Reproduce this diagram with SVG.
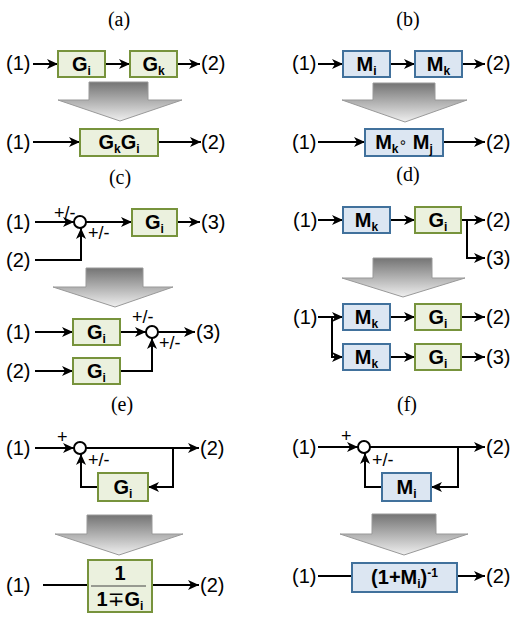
<svg xmlns="http://www.w3.org/2000/svg" width="515" height="617" viewBox="0 0 515 617">
  <defs>
    <marker id="ah" markerUnits="userSpaceOnUse" markerWidth="12" markerHeight="10" refX="11" refY="5" orient="auto">
      <path d="M0,0 L11,5 L0,10 L3,5 z" fill="#000"/>
    </marker>
    <linearGradient id="bigArrowFill" x1="0" y1="0" x2="0" y2="1">
      <stop offset="0" stop-color="#747474"/>
      <stop offset="1" stop-color="#efefef"/>
    </linearGradient>
    <style>
      .lbl { font-family: "Liberation Sans", Arial, sans-serif; font-size: 20px; fill: #000; }
      .cap { font-family: "Liberation Serif", "Times New Roman", serif; font-size: 20px; fill: #000; text-anchor: middle; }
      .sgn { font-family: "Liberation Sans", Arial, sans-serif; font-size: 18px; fill: #000; }
      .bt  { font-family: "Liberation Sans", "DejaVu Sans", Arial, sans-serif; font-size: 20px; font-weight: bold; fill: #000; text-anchor: middle; }
      .sub { font-size: 12px; }
      .gbox { fill: #ebf1de; stroke: #77933c; stroke-width: 2; }
      .bbox { fill: #dce6f2; stroke: #41719c; stroke-width: 2; }
      .wire { fill: none; stroke: #000; stroke-width: 2; }
      .arr { marker-end: url(#ah); }
      .sum { fill: #fff; stroke: #000; stroke-width: 2; }
      .big { fill: url(#bigArrowFill); stroke: #999; stroke-width: 1; }
    </style>
  </defs>

  <!-- captions -->
  <g id="captions">
    <text class="cap" x="119" y="26">(a)</text>
    <text class="cap" x="408" y="26">(b)</text>
    <text class="cap" x="120" y="184">(c)</text>
    <text class="cap" x="408" y="181">(d)</text>
    <text class="cap" x="122" y="411">(e)</text>
    <text class="cap" x="407" y="411">(f)</text>
  </g>

  <!-- terminal labels -->
  <g id="terminals">
    <!-- (a) -->
    <text class="lbl" x="6" y="70">(1)</text>
    <text class="lbl" x="201" y="70">(2)</text>
    <text class="lbl" x="6" y="149">(1)</text>
    <text class="lbl" x="201" y="149">(2)</text>
    <!-- (b) -->
    <text class="lbl" x="292" y="70">(1)</text>
    <text class="lbl" x="486" y="70">(2)</text>
    <text class="lbl" x="292" y="149">(1)</text>
    <text class="lbl" x="486" y="149">(2)</text>
    <!-- (c) -->
    <text class="lbl" x="6" y="229">(1)</text>
    <text class="lbl" x="6" y="267">(2)</text>
    <text class="lbl" x="201" y="229">(3)</text>
    <text class="lbl" x="6" y="339">(1)</text>
    <text class="lbl" x="6" y="378">(2)</text>
    <text class="lbl" x="196" y="339">(3)</text>
    <!-- (d) -->
    <text class="lbl" x="293" y="227">(1)</text>
    <text class="lbl" x="486" y="227">(2)</text>
    <text class="lbl" x="486" y="265">(3)</text>
    <text class="lbl" x="293" y="324">(1)</text>
    <text class="lbl" x="486" y="324">(2)</text>
    <text class="lbl" x="486" y="364">(3)</text>
    <!-- (e) -->
    <text class="lbl" x="6" y="455">(1)</text>
    <text class="lbl" x="200" y="455">(2)</text>
    <text class="lbl" x="6" y="592">(1)</text>
    <text class="lbl" x="200" y="592">(2)</text>
    <!-- (f) -->
    <text class="lbl" x="292" y="454">(1)</text>
    <text class="lbl" x="486" y="454">(2)</text>
    <text class="lbl" x="292" y="583">(1)</text>
    <text class="lbl" x="486" y="583">(2)</text>
  </g>

  <!-- sign labels at summing junctions -->
  <g id="signs">
    <text class="sgn" x="54" y="219">+/-</text>
    <text class="sgn" x="88" y="239">+/-</text>
    <text class="sgn" x="132" y="323">+/-</text>
    <text class="sgn" x="159" y="349">+/-</text>
    <text class="sgn" x="57" y="443">+</text>
    <text class="sgn" x="88" y="466">+/-</text>
    <text class="sgn" x="341" y="442">+</text>
    <text class="sgn" x="372" y="466">+/-</text>
  </g>

  <!-- reduction arrows -->
  <g id="reduce-a"><polygon class="big" points="89,82 148,82 148,100 182,100 120,121 58,100 89,100"/></g>
  <g id="reduce-b"><polygon class="big" points="373,83 435,83 435,100 467,100 405,122 342,100 373,100"/></g>
  <g id="reduce-c"><polygon class="big" points="86,268 143,268 143,287 173,287 115,307 53,287 86,287"/></g>
  <g id="reduce-d"><polygon class="big" points="373,258 432,258 432,278 465,278 403,297 342,278 373,278"/></g>
  <g id="reduce-e"><polygon class="big" points="87,515 152,515 152,534 183,534 119,555 55,534 87,534"/></g>
  <g id="reduce-f"><polygon class="big" points="372,514 436,514 436,534 468,534 404,555 340,534 372,534"/></g>

  <!-- connectors -->
  <g id="connectors">
    <!-- (a) -->
    <line class="wire arr" x1="33" y1="64" x2="58" y2="64"/>
    <line class="wire arr" x1="105" y1="64" x2="130" y2="64"/>
    <line class="wire arr" x1="177" y1="64" x2="200" y2="64"/>
    <line class="wire arr" x1="33" y1="142" x2="80" y2="142"/>
    <line class="wire arr" x1="158" y1="142" x2="201" y2="142"/>
    <!-- (b) -->
    <line class="wire arr" x1="318" y1="64" x2="343" y2="64"/>
    <line class="wire arr" x1="390" y1="64" x2="415" y2="64"/>
    <line class="wire arr" x1="462" y1="64" x2="485" y2="64"/>
    <line class="wire arr" x1="318" y1="142" x2="365" y2="142"/>
    <line class="wire arr" x1="443" y1="142" x2="485" y2="142"/>
    <!-- (c) top -->
    <line class="wire arr" x1="35" y1="222" x2="74" y2="222"/>
    <line class="wire arr" x1="86" y1="222" x2="132" y2="222"/>
    <line class="wire arr" x1="177" y1="222" x2="200" y2="222"/>
    <polyline class="wire arr" points="35,260 81,260 81,228"/>
    <!-- (c) bottom -->
    <line class="wire arr" x1="35" y1="332" x2="73" y2="332"/>
    <line class="wire arr" x1="120" y1="332" x2="146" y2="332"/>
    <line class="wire arr" x1="158" y1="332" x2="195" y2="332"/>
    <line class="wire arr" x1="35" y1="371" x2="73" y2="371"/>
    <polyline class="wire arr" points="120,371 152,371 152,338"/>
    <!-- (d) top -->
    <line class="wire arr" x1="318" y1="220" x2="343" y2="220"/>
    <line class="wire arr" x1="390" y1="220" x2="415" y2="220"/>
    <line class="wire arr" x1="461" y1="220" x2="485" y2="220"/>
    <polyline class="wire arr" points="467,220 467,258 485,258"/>
    <!-- (d) bottom -->
    <line class="wire arr" x1="318" y1="317" x2="343" y2="317"/>
    <polyline class="wire arr" points="332,317 332,357 343,357"/>
    <line class="wire arr" x1="390" y1="317" x2="415" y2="317"/>
    <line class="wire arr" x1="390" y1="357" x2="415" y2="357"/>
    <line class="wire arr" x1="461" y1="317" x2="485" y2="317"/>
    <line class="wire arr" x1="461" y1="357" x2="485" y2="357"/>
    <!-- (e) -->
    <line class="wire arr" x1="35" y1="448" x2="74" y2="448"/>
    <line class="wire arr" x1="86" y1="448" x2="199" y2="448"/>
    <polyline class="wire arr" points="173,448 173,487 148,487"/>
    <polyline class="wire arr" points="98,487 81,487 81,454"/>
    <line class="wire" x1="43" y1="585" x2="88" y2="585"/>
    <line class="wire arr" x1="152" y1="585" x2="199" y2="585"/>
    <!-- (f) -->
    <line class="wire arr" x1="318" y1="447" x2="358" y2="447"/>
    <line class="wire arr" x1="370" y1="447" x2="485" y2="447"/>
    <polyline class="wire arr" points="458,447 458,487 431,487"/>
    <polyline class="wire arr" points="382,487 365,487 365,453"/>
    <line class="wire" x1="318" y1="576" x2="352" y2="576"/>
    <line class="wire arr" x1="457" y1="576" x2="485" y2="576"/>
  </g>

  <!-- summing junctions -->
  <g id="sum-c1"><circle class="sum" cx="80" cy="222" r="6"/></g>
  <g id="sum-c2"><circle class="sum" cx="152" cy="332" r="6"/></g>
  <g id="sum-e"><circle class="sum" cx="80" cy="448" r="6"/></g>
  <g id="sum-f"><circle class="sum" cx="364" cy="447" r="6"/></g>

  <!-- blocks: (a) -->
  <g id="a-Gi"><rect class="gbox" x="58" y="51" width="47" height="26"/>
    <text class="bt" x="81.5" y="71">G<tspan class="sub" dy="4">i</tspan></text></g>
  <g id="a-Gk"><rect class="gbox" x="130" y="51" width="47" height="26"/>
    <text class="bt" x="153.5" y="71">G<tspan class="sub" dy="4">k</tspan></text></g>
  <g id="a-GkGi"><rect class="gbox" x="80" y="129" width="78" height="27"/>
    <text class="bt" x="119" y="149">G<tspan class="sub" dy="4">k</tspan><tspan dy="-4">G</tspan><tspan class="sub" dy="4">i</tspan></text></g>

  <!-- blocks: (b) -->
  <g id="b-Mi"><rect class="bbox" x="343" y="51" width="47" height="26"/>
    <text class="bt" x="366.5" y="71">M<tspan class="sub" dy="4">i</tspan></text></g>
  <g id="b-Mk"><rect class="bbox" x="415" y="51" width="47" height="26"/>
    <text class="bt" x="438.5" y="71">M<tspan class="sub" dy="4">k</tspan></text></g>
  <g id="b-MkMj"><rect class="bbox" x="365" y="129" width="78" height="27"/>
    <text class="bt" x="404" y="149">M<tspan class="sub" dy="4">k</tspan><tspan font-size="14" font-weight="normal" dy="-6">∘</tspan><tspan dy="2"> M</tspan><tspan class="sub" dy="4">j</tspan></text></g>

  <!-- blocks: (c) -->
  <g id="c-Gi"><rect class="gbox" x="132" y="209" width="45" height="27"/>
    <text class="bt" x="154.5" y="229">G<tspan class="sub" dy="4">i</tspan></text></g>
  <g id="c-Gi1"><rect class="gbox" x="73" y="319" width="47" height="26"/>
    <text class="bt" x="96.5" y="339">G<tspan class="sub" dy="4">i</tspan></text></g>
  <g id="c-Gi2"><rect class="gbox" x="73" y="358" width="47" height="26"/>
    <text class="bt" x="96.5" y="378">G<tspan class="sub" dy="4">i</tspan></text></g>

  <!-- blocks: (d) -->
  <g id="d-Mk"><rect class="bbox" x="343" y="207" width="47" height="26"/>
    <text class="bt" x="366.5" y="227">M<tspan class="sub" dy="4">k</tspan></text></g>
  <g id="d-Gi"><rect class="gbox" x="415" y="207" width="46" height="26"/>
    <text class="bt" x="438" y="227">G<tspan class="sub" dy="4">i</tspan></text></g>
  <g id="d-Mk1"><rect class="bbox" x="343" y="304" width="47" height="26"/>
    <text class="bt" x="366.5" y="324">M<tspan class="sub" dy="4">k</tspan></text></g>
  <g id="d-Gi1"><rect class="gbox" x="415" y="304" width="46" height="26"/>
    <text class="bt" x="438" y="324">G<tspan class="sub" dy="4">i</tspan></text></g>
  <g id="d-Mk2"><rect class="bbox" x="343" y="344" width="47" height="26"/>
    <text class="bt" x="366.5" y="364">M<tspan class="sub" dy="4">k</tspan></text></g>
  <g id="d-Gi2"><rect class="gbox" x="415" y="344" width="46" height="26"/>
    <text class="bt" x="438" y="364">G<tspan class="sub" dy="4">i</tspan></text></g>

  <!-- blocks: (e) -->
  <g id="e-Gi"><rect class="gbox" x="98" y="473" width="50" height="28"/>
    <text class="bt" x="123" y="494">G<tspan class="sub" dy="4">i</tspan></text></g>
  <g id="e-closed"><rect class="gbox" x="88" y="560" width="64" height="52"/>
    <text class="bt" x="120" y="580">1</text>
    <line x1="91" y1="586" x2="146" y2="586" stroke="#444" stroke-width="1"/>
    <text class="bt" x="120" y="606">1<tspan font-weight="normal">∓</tspan>G<tspan class="sub" dy="4">i</tspan></text></g>

  <!-- blocks: (f) -->
  <g id="f-Mi"><rect class="bbox" x="382" y="473" width="49" height="28"/>
    <text class="bt" x="406.5" y="494">M<tspan class="sub" dy="4">i</tspan></text></g>
  <g id="f-closed"><rect class="bbox" x="352" y="563" width="105" height="29"/>
    <text class="bt" x="404.5" y="584">(1+M<tspan class="sub" dy="4">i</tspan><tspan dy="-4">)</tspan><tspan class="sub" dy="-7">-1</tspan></text></g>
</svg>
